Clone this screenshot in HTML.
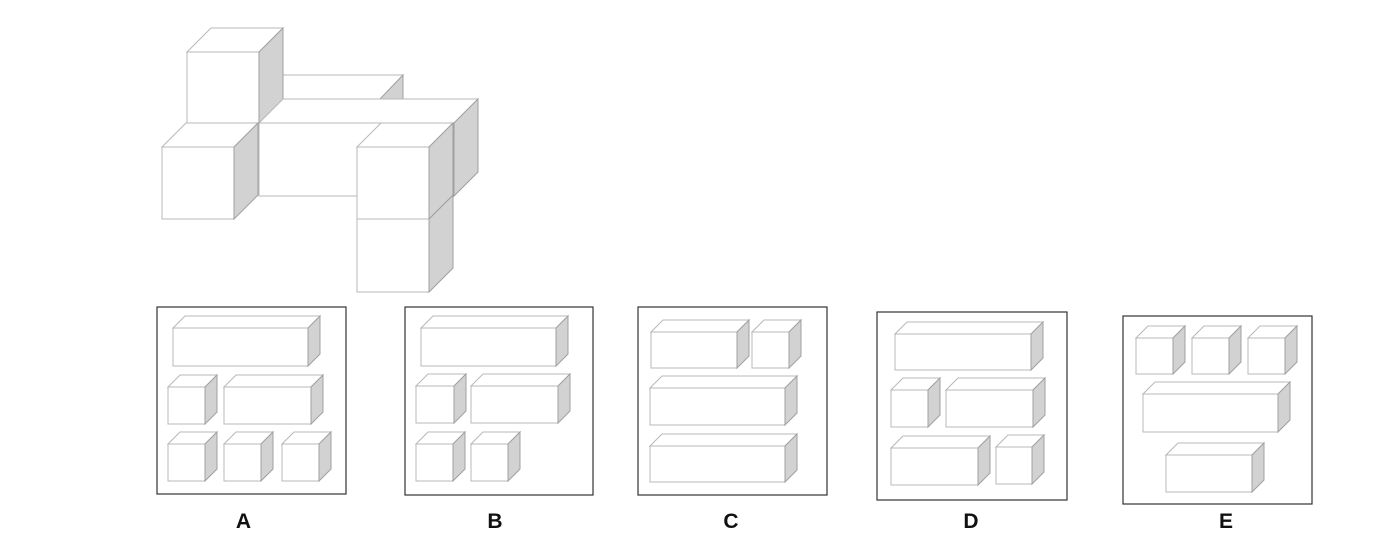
<!DOCTYPE html>
<html><head><meta charset="utf-8"><style>
html,body{margin:0;padding:0;background:#fff;}
svg{display:block;}
.f{fill:#fff;stroke:#b8b8b8;stroke-width:1;}
.s{fill:#d2d2d2;stroke:#a0a0a0;stroke-width:1;}
.fr{fill:none;stroke:#333;stroke-width:1.2;}
text{font-family:"Liberation Sans",Arial,sans-serif;font-weight:bold;font-size:21px;fill:#111;}
</style></head><body>
<svg width="1400" height="537" viewBox="0 0 1400 537" xmlns="http://www.w3.org/2000/svg">
<!-- main figure -->
<polygon class="f" points="259,99 283,75 403,75 380,99"/>
<polygon class="s" points="380,99 403,75 403,148 380,172"/>
<rect class="f" x="187" y="52" width="72" height="72"/>
<polygon class="f" points="187,52 211,28 283,28 259,52"/>
<polygon class="s" points="259,52 283,28 283,100 259,124"/>
<rect class="f" x="259" y="123" width="195" height="73"/>
<polygon class="f" points="259,123 283,99 478,99 454,123"/>
<polygon class="s" points="454,123 478,99 478,172 454,196"/>
<rect class="f" x="162" y="147" width="72" height="72"/>
<polygon class="f" points="162,147 186,123 258,123 234,147"/>
<polygon class="s" points="234,147 258,123 258,195 234,219"/>
<rect class="f" x="357" y="219" width="72" height="73"/>
<polygon class="s" points="429,219 453,195 453,268 429,292"/>
<rect class="f" x="357" y="147" width="72" height="72"/>
<polygon class="f" points="357,147 381,123 453,123 429,147"/>
<polygon class="s" points="429,147 453,123 453,195 429,219"/>

<!-- frames -->
<rect class="fr" x="157" y="307" width="189" height="187"/>
<rect class="fr" x="405" y="307" width="188" height="188"/>
<rect class="fr" x="638" y="307" width="189" height="188"/>
<rect class="fr" x="877" y="312" width="190" height="188"/>
<rect class="fr" x="1123" y="316" width="189" height="188"/>

<!-- A -->
<rect class="f" x="173" y="328" width="135" height="38"/><polygon class="f" points="173,328 185,316 320,316 308,328"/><polygon class="s" points="308,328 320,316 320,354 308,366"/>
<rect class="f" x="168" y="387" width="37" height="37"/><polygon class="f" points="168,387 180,375 217,375 205,387"/><polygon class="s" points="205,387 217,375 217,412 205,424"/>
<rect class="f" x="224" y="387" width="87" height="37"/><polygon class="f" points="224,387 236,375 323,375 311,387"/><polygon class="s" points="311,387 323,375 323,412 311,424"/>
<rect class="f" x="168" y="444" width="37" height="37"/><polygon class="f" points="168,444 180,432 217,432 205,444"/><polygon class="s" points="205,444 217,432 217,469 205,481"/>
<rect class="f" x="224" y="444" width="37" height="37"/><polygon class="f" points="224,444 236,432 273,432 261,444"/><polygon class="s" points="261,444 273,432 273,469 261,481"/>
<rect class="f" x="282" y="444" width="37" height="37"/><polygon class="f" points="282,444 294,432 331,432 319,444"/><polygon class="s" points="319,444 331,432 331,469 319,481"/>
<!-- B -->
<rect class="f" x="421" y="328" width="135" height="38"/><polygon class="f" points="421,328 433,316 568,316 556,328"/><polygon class="s" points="556,328 568,316 568,354 556,366"/>
<rect class="f" x="416" y="386" width="38" height="37"/><polygon class="f" points="416,386 428,374 466,374 454,386"/><polygon class="s" points="454,386 466,374 466,411 454,423"/>
<rect class="f" x="471" y="386" width="87" height="37"/><polygon class="f" points="471,386 483,374 570,374 558,386"/><polygon class="s" points="558,386 570,374 570,411 558,423"/>
<rect class="f" x="416" y="444" width="37" height="37"/><polygon class="f" points="416,444 428,432 465,432 453,444"/><polygon class="s" points="453,444 465,432 465,469 453,481"/>
<rect class="f" x="471" y="444" width="37" height="37"/><polygon class="f" points="471,444 483,432 520,432 508,444"/><polygon class="s" points="508,444 520,432 520,469 508,481"/>
<!-- C -->
<rect class="f" x="651" y="332" width="86" height="36"/><polygon class="f" points="651,332 663,320 749,320 737,332"/><polygon class="s" points="737,332 749,320 749,356 737,368"/>
<rect class="f" x="752" y="332" width="37" height="36"/><polygon class="f" points="752,332 764,320 801,320 789,332"/><polygon class="s" points="789,332 801,320 801,356 789,368"/>
<rect class="f" x="650" y="388" width="135" height="37"/><polygon class="f" points="650,388 662,376 797,376 785,388"/><polygon class="s" points="785,388 797,376 797,413 785,425"/>
<rect class="f" x="650" y="446" width="135" height="36"/><polygon class="f" points="650,446 662,434 797,434 785,446"/><polygon class="s" points="785,446 797,434 797,470 785,482"/>
<!-- D -->
<rect class="f" x="895" y="334" width="136" height="36"/><polygon class="f" points="895,334 907,322 1043,322 1031,334"/><polygon class="s" points="1031,334 1043,322 1043,358 1031,370"/>
<rect class="f" x="891" y="390" width="37" height="37"/><polygon class="f" points="891,390 903,378 940,378 928,390"/><polygon class="s" points="928,390 940,378 940,415 928,427"/>
<rect class="f" x="946" y="390" width="87" height="37"/><polygon class="f" points="946,390 958,378 1045,378 1033,390"/><polygon class="s" points="1033,390 1045,378 1045,415 1033,427"/>
<rect class="f" x="891" y="448" width="87" height="37"/><polygon class="f" points="891,448 903,436 990,436 978,448"/><polygon class="s" points="978,448 990,436 990,473 978,485"/>
<rect class="f" x="996" y="447" width="36" height="37"/><polygon class="f" points="996,447 1008,435 1044,435 1032,447"/><polygon class="s" points="1032,447 1044,435 1044,472 1032,484"/>
<!-- E -->
<rect class="f" x="1136" y="338" width="37" height="36"/><polygon class="f" points="1136,338 1148,326 1185,326 1173,338"/><polygon class="s" points="1173,338 1185,326 1185,362 1173,374"/>
<rect class="f" x="1192" y="338" width="37" height="36"/><polygon class="f" points="1192,338 1204,326 1241,326 1229,338"/><polygon class="s" points="1229,338 1241,326 1241,362 1229,374"/>
<rect class="f" x="1248" y="338" width="37" height="36"/><polygon class="f" points="1248,338 1260,326 1297,326 1285,338"/><polygon class="s" points="1285,338 1297,326 1297,362 1285,374"/>
<rect class="f" x="1143" y="394" width="135" height="38"/><polygon class="f" points="1143,394 1155,382 1290,382 1278,394"/><polygon class="s" points="1278,394 1290,382 1290,420 1278,432"/>
<rect class="f" x="1166" y="455" width="86" height="37"/><polygon class="f" points="1166,455 1178,443 1264,443 1252,455"/><polygon class="s" points="1252,455 1264,443 1264,480 1252,492"/>

<!-- labels -->
<text x="243.5" y="528" text-anchor="middle">A</text>
<text x="495" y="528" text-anchor="middle">B</text>
<text x="731" y="528" text-anchor="middle">C</text>
<text x="971" y="528" text-anchor="middle">D</text>
<text x="1226" y="528" text-anchor="middle">E</text>
</svg>
</body></html>
